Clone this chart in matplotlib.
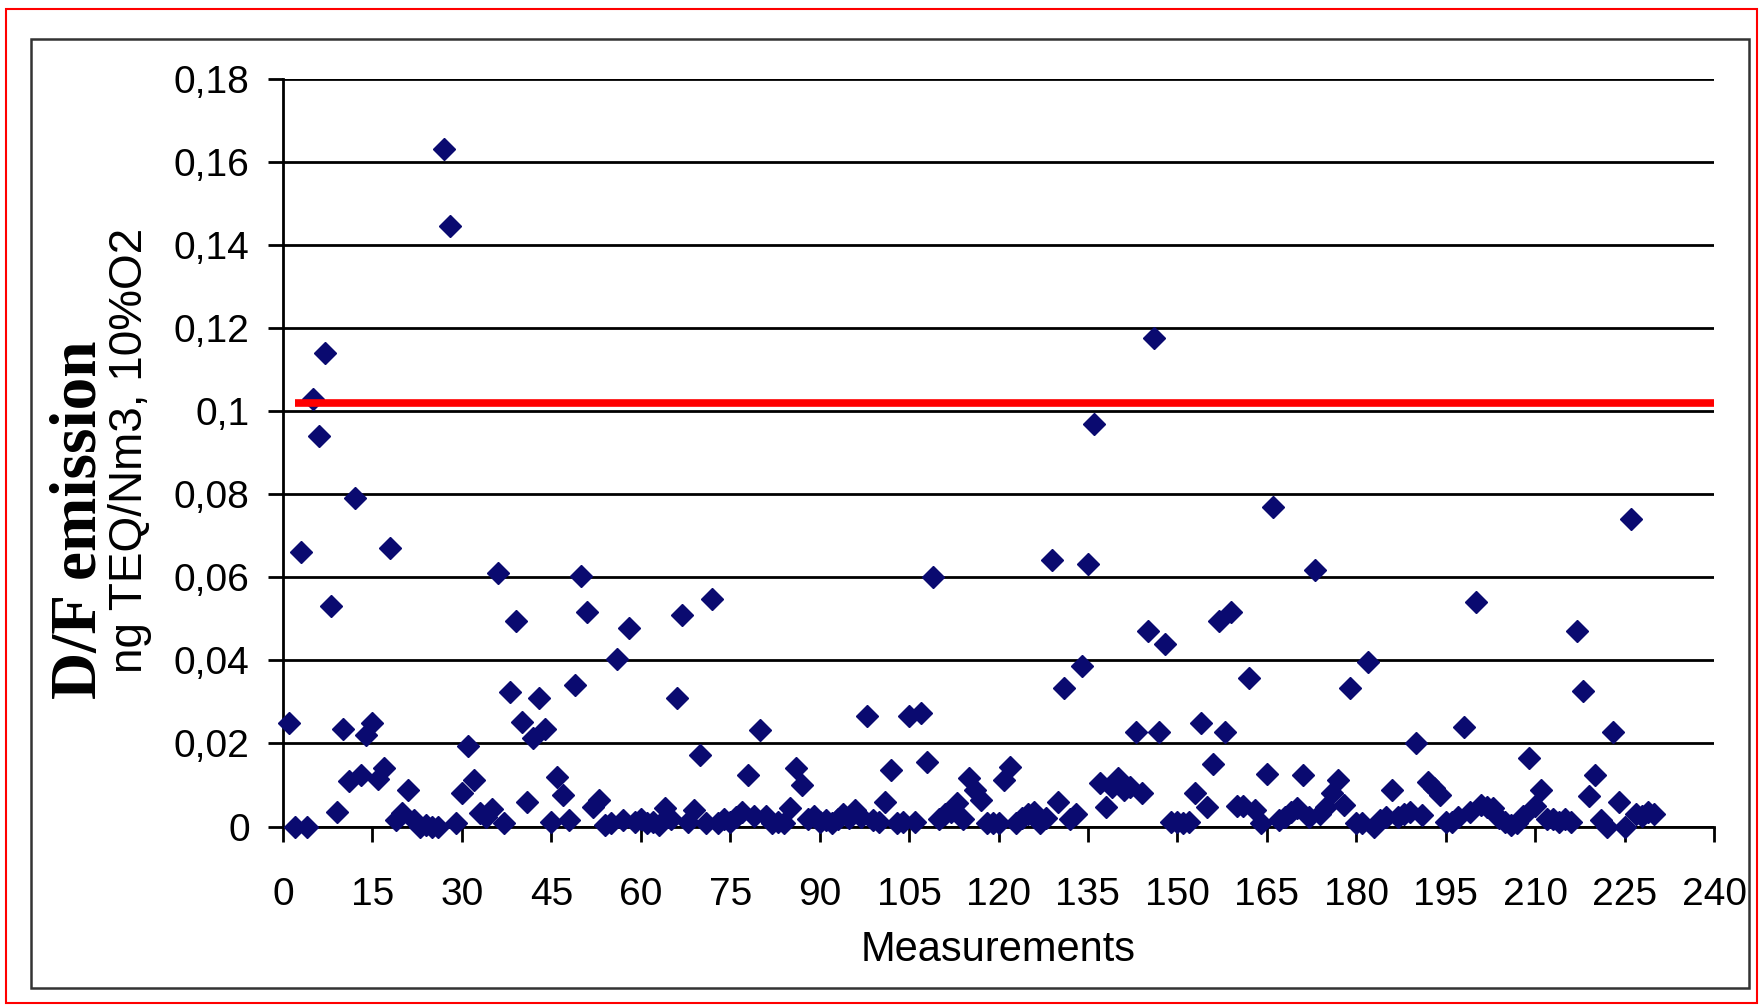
import matplotlib
matplotlib.use('Agg')
import matplotlib.pyplot as plt
from matplotlib.patches import Rectangle

plt.rcParams['font.family'] = ['Liberation Sans', 'DejaVu Sans']

# measurement number and D/F emission (ng TEQ/Nm3, 10% O2)
measurements = list(range(1, 231))
emission = [
    0.025, 0.0, 0.066, 0.0, 0.103, 0.094, 0.114, 0.053, 0.0035, 0.0235,
    0.011, 0.079, 0.0125, 0.022, 0.025, 0.0115, 0.014, 0.067, 0.0015, 0.0032,
    0.0088, 0.0015, 0.0, 0.0005, 0.0, 0.0, 0.163, 0.1445, 0.0008, 0.008,
    0.0195, 0.0112, 0.0033, 0.0024, 0.0043, 0.061, 0.0008, 0.0325, 0.0495, 0.0252,
    0.0058, 0.0213, 0.031, 0.0235, 0.001, 0.012, 0.0076, 0.0015, 0.034, 0.0603,
    0.0517, 0.0048, 0.0064, 0.0003, 0.0008, 0.0403, 0.0016, 0.0479, 0.001, 0.0018,
    0.0008, 0.0012, 0.0003, 0.0045, 0.0018, 0.031, 0.051, 0.001, 0.004, 0.0172,
    0.0008, 0.0547, 0.0008, 0.0018, 0.001, 0.0022, 0.0035, 0.0124, 0.0025, 0.0232,
    0.0025, 0.0008, 0.0012, 0.0008, 0.0045, 0.014, 0.010, 0.0018, 0.0025, 0.001,
    0.0015, 0.0008, 0.0018, 0.003, 0.002, 0.004, 0.0024, 0.0265, 0.0015, 0.001,
    0.006, 0.0136, 0.0008, 0.001, 0.0265, 0.001, 0.0273, 0.0156, 0.060, 0.0018,
    0.003, 0.0035, 0.0057, 0.0018, 0.0116, 0.0088, 0.0064, 0.0008, 0.0008, 0.0008,
    0.0112, 0.0144, 0.0008, 0.002, 0.003, 0.0034, 0.0008, 0.002, 0.0642, 0.006,
    0.0333, 0.0018, 0.003, 0.0387, 0.0633, 0.097, 0.0104, 0.0048, 0.0096, 0.0116,
    0.0088, 0.0096, 0.0228, 0.008, 0.047, 0.1175, 0.0228, 0.044, 0.001, 0.0012,
    0.0008, 0.001, 0.008, 0.025, 0.0048, 0.015, 0.0495, 0.0227, 0.0517, 0.005,
    0.005, 0.0357, 0.004, 0.0008, 0.0126, 0.0768, 0.0016, 0.0024, 0.0035, 0.0045,
    0.0124, 0.0024, 0.0617, 0.003, 0.0048, 0.008, 0.0112, 0.0052, 0.0333, 0.0008,
    0.0008, 0.0395, 0.0, 0.0016, 0.0024, 0.0088, 0.0024, 0.003, 0.0034, 0.0201,
    0.0027, 0.0108, 0.0092, 0.0075, 0.0012, 0.0012, 0.0024, 0.024, 0.0036, 0.054,
    0.0052, 0.0046, 0.0044, 0.002, 0.001, 0.0004, 0.0008, 0.0025, 0.0164, 0.005,
    0.0088, 0.0018, 0.0018, 0.001, 0.0018, 0.001, 0.0471, 0.0327, 0.0074, 0.0124,
    0.0015, 0.0, 0.0228, 0.006, 0.0, 0.074, 0.003, 0.0025, 0.0034, 0.003,
]

# emission limit line
limit_value = 0.102
limit_start = 2
limit_end = 240

x_ticks = list(range(0, 241, 15))
y_ticks = [0, 0.02, 0.04, 0.06, 0.08, 0.1, 0.12, 0.14, 0.16, 0.18]
y_tick_labels = ['0', '0,02', '0,04', '0,06', '0,08', '0,1', '0,12', '0,14', '0,16', '0,18']

fig = plt.figure(figsize=(17.61, 10.06), dpi=100)

# red outer frame and black inner frame
fig.patches.append(Rectangle((6 / 1761, 3 / 1006), 1751 / 1761, 994 / 1006,
                             transform=fig.transFigure, fill=False,
                             edgecolor='red', lw=1.5))
fig.patches.append(Rectangle((31 / 1761, 18 / 1006), 1718 / 1761, 949 / 1006,
                             transform=fig.transFigure, fill=False,
                             edgecolor='#333333', lw=1.8))

ax = fig.add_axes([283 / 1761, 179.4 / 1006, 1431 / 1761, 748 / 1006])

ax.plot(measurements, emission, linestyle='none', marker='D', ms=11.5,
        color='#0a0a70', clip_on=False, zorder=3)
ax.plot([limit_start, limit_end], [limit_value, limit_value], color='red',
        lw=5.5, solid_capstyle='butt', zorder=4)

ax.set_xlim(0, 240)
ax.set_ylim(0, 0.18)
ax.set_xticks(x_ticks)
ax.set_yticks(y_ticks)
ax.set_yticklabels(y_tick_labels)

ax.yaxis.grid(True, color='black', lw=2)
ax.set_axisbelow(True)
for side in ['top', 'right']:
    ax.spines[side].set_visible(False)
for side in ['left', 'bottom']:
    ax.spines[side].set_linewidth(2)
    ax.spines[side].set_color('black')

ax.tick_params(direction='out', length=11, width=2, labelsize=28, colors='black')
ax.tick_params(axis='x', pad=25)
ax.tick_params(axis='y', pad=13)

fig.text(80 / 1761, 1 - 520 / 1006, 'D/F emission', rotation=90, ha='center',
         va='center', fontsize=47, fontweight='bold', family='Liberation Serif')
fig.text(130 / 1761, 1 - 450 / 1006, 'ng TEQ/Nm3, 10%O2', rotation=90,
         ha='center', va='center', fontsize=33)
fig.text(998 / 1761, 1 - 950 / 1006, 'Measurements', ha='center', va='center',
         fontsize=30)

fig.savefig('out.png', dpi=100, facecolor='white')
